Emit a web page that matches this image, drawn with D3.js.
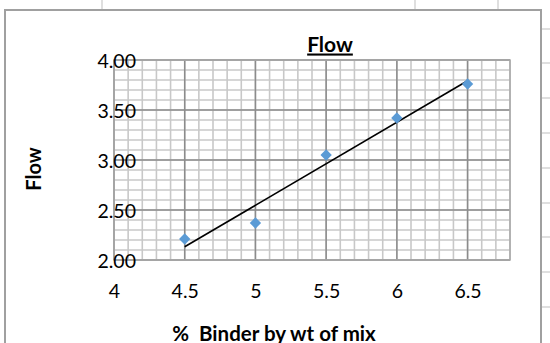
<!DOCTYPE html>
<html>
  <head>
    <meta charset="utf-8" />
    <title>Flow</title>
    <script src="https://d3js.org/d3.v7.min.js"></script>
    <style>
      body { margin: 0; background: #fff; }
      text { font-family: Lato, "Open Sans", sans-serif; fill: #000; }
      .axis .domain { display: none; }
      .axis line { display: none; }
    </style>
  </head>
  <body>
    <svg id="chart"></svg>
    <script>
      // data
      var binder = [4.5, 5, 5.5, 6, 6.5];
      var flow = [2.21, 2.37, 3.05, 3.42, 3.76];
      var xTicks = [4, 4.5, 5, 5.5, 6, 6.5];
      var yTicks = [2, 2.5, 3, 3.5, 4];

      var width = 550, height = 343;
      var plot = {left: 114, right: 510, top: 60, bottom: 260};

      var svg = d3.select("#chart").attr("width", width).attr("height", height);

      var x = d3.scaleLinear().domain([4, 6.8]).range([plot.left, plot.right]);
      var y = d3.scaleLinear().domain([2, 4]).range([plot.bottom, plot.top]);

      // spreadsheet cells behind the chart
      var sheet = svg.append("g").attr("stroke", "#d4d4d4").attr("stroke-width", 1.5);
      [102, 415, 498].forEach(function(cx) {
        sheet.append("line").attr("x1", cx).attr("x2", cx).attr("y1", 0).attr("y2", 10);
      });
      [29, 63, 98, 133, 168, 203, 237, 272, 307].forEach(function(cy) {
        sheet.append("line").attr("x1", 541).attr("x2", 550).attr("y1", cy).attr("y2", cy);
      });

      // chart area border
      svg.append("rect")
        .attr("x", 5).attr("y", 10).attr("width", 536).attr("height", 340)
        .attr("fill", "#fff").attr("stroke", "#a0a0a0").attr("stroke-width", 2);

      // minor grid
      var grid = svg.append("g");
      grid.selectAll(".vmin").data(x.ticks(28)).enter().append("line")
        .attr("x1", function(d) { return x(d); }).attr("x2", function(d) { return x(d); })
        .attr("y1", plot.top).attr("y2", plot.bottom)
        .attr("stroke", "#c8c8c8").attr("stroke-width", 1.6);
      grid.selectAll(".hmin").data(y.ticks(20)).enter().append("line")
        .attr("y1", function(d) { return y(d); }).attr("y2", function(d) { return y(d); })
        .attr("x1", plot.left).attr("x2", plot.right)
        .attr("stroke", "#c8c8c8").attr("stroke-width", 1.6);

      // major grid
      grid.selectAll(".vmaj").data(xTicks).enter().append("line")
        .attr("x1", function(d) { return x(d); }).attr("x2", function(d) { return x(d); })
        .attr("y1", plot.top).attr("y2", plot.bottom)
        .attr("stroke", "#8c8c8c").attr("stroke-width", 1.5);
      grid.selectAll(".hmaj").data(yTicks).enter().append("line")
        .attr("y1", function(d) { return y(d); }).attr("y2", function(d) { return y(d); })
        .attr("x1", plot.left).attr("x2", plot.right)
        .attr("stroke", "#8c8c8c").attr("stroke-width", 1.5);
      grid.append("rect")
        .attr("x", plot.left).attr("y", plot.top)
        .attr("width", plot.right - plot.left).attr("height", plot.bottom - plot.top)
        .attr("fill", "none").attr("stroke", "#a8a8a8").attr("stroke-width", 1.5);

      // axes
      var xAxis = d3.axisBottom(x).tickValues(xTicks).tickSize(0).tickPadding(0)
        .tickFormat(d3.format(""));
      svg.append("g").attr("class", "axis")
        .attr("transform", "translate(0," + plot.bottom + ")")
        .call(xAxis)
        .selectAll("text")
          .attr("y", 38).attr("dy", 0)
          .style("font-size", "19.5px").style("font-family", "Lato");

      var yAxis = d3.axisLeft(y).tickValues(yTicks).tickSize(0).tickPadding(0)
        .tickFormat(d3.format(".2f"));
      svg.append("g").attr("class", "axis")
        .attr("transform", "translate(" + plot.left + ",0)")
        .call(yAxis)
        .selectAll("text")
          .attr("x", 22).attr("dy", "0.36em")
          .style("font-size", "19.5px").style("font-family", "Lato");

      // trendline (least squares through the points)
      var mx = d3.mean(binder), my = d3.mean(flow);
      var sxy = d3.sum(binder, function(d, i) { return (d - mx) * (flow[i] - my); });
      var sxx = d3.sum(binder, function(d) { return (d - mx) * (d - mx); });
      var slope = sxy / sxx, icpt = my - slope * mx;
      var ends = [d3.min(binder), d3.max(binder)];
      svg.append("path")
        .datum(ends)
        .attr("d", d3.line()
          .x(function(d) { return x(d); })
          .y(function(d) { return y(icpt + slope * d); }))
        .attr("stroke", "#000").attr("stroke-width", 1.6).attr("fill", "none");

      // markers
      svg.selectAll(".pt").data(binder).enter().append("path")
        .attr("class", "pt")
        .attr("transform", function(d, i) { return "translate(" + x(d) + "," + y(flow[i]) + ") rotate(45)"; })
        .attr("d", d3.symbol().type(d3.symbolSquare).size(64))
        .attr("fill", "#5b9bd5");

      // titles
      svg.append("text")
        .attr("x", 330).attr("y", 51.5)
        .attr("text-anchor", "middle")
        .style("font-size", "21px").style("font-weight", "bold")
        .style("text-decoration", "underline")
        .text("Flow");

      svg.append("text")
        .attr("transform", "translate(41,169) rotate(-90)")
        .attr("text-anchor", "middle")
        .style("font-size", "20px").style("font-weight", "bold")
        .text("Flow");

      svg.append("text")
        .attr("x", 274).attr("y", 341)
        .attr("text-anchor", "middle")
        .style("font-size", "20.5px").style("font-weight", "bold")
        .style("white-space", "pre")
        .text("%  Binder by wt of mix");
    </script>
  </body>
</html>
